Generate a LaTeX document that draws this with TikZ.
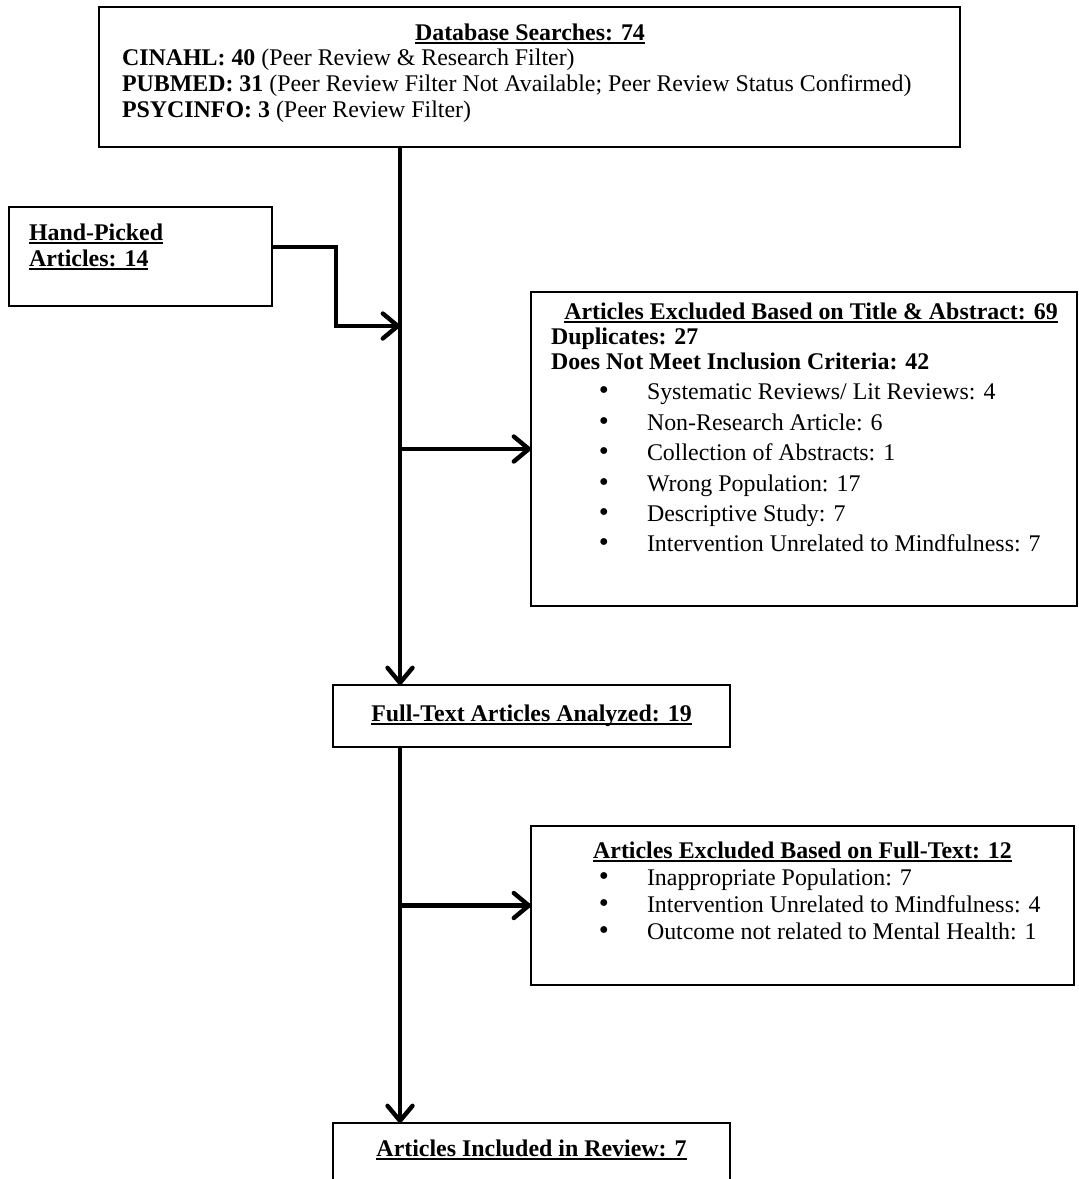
\documentclass[tikz,border=0pt]{standalone}
\usepackage{fontspec}
\setmainfont{Liberation Serif}
\usetikzlibrary{arrows.meta,calc}
\newcommand\myul[1]{\setbox0\hbox{#1}\rlap{\rule[-4pt]{\wd0}{1.8pt}}\box0}
\newcommand\mybul{\raisebox{-0.8pt}{\scalebox{1.2}{\textbullet}}}
\tikzset{
  boxnode/.style={draw, line width=1.6pt, rectangle, inner sep=0pt, outer sep=0pt, anchor=north west},
  txt/.style={inner sep=0pt, outer sep=0pt, font=\fontsize{23.9}{28}\selectfont},
  lt/.style={txt, anchor=base west},
  ct/.style={txt, anchor=base},
  flow/.style={line width=4.4pt, -{Straight Barb[round,length=15pt,width=25pt]}}
}
\begin{document}
\begin{tikzpicture}[x=1pt,y=-1pt]
\useasboundingbox (0,0) rectangle (1079,1179);
\clip (0,0) rectangle (1079,1179);
% boxes
\node[boxnode, minimum width=861pt, minimum height=140pt] (db) at (99,7) {};
\node[boxnode, minimum width=263pt, minimum height=99pt] (hand) at (9,207) {};
\node[boxnode, minimum width=546pt, minimum height=314pt] (ex1) at (531,292) {};
\node[boxnode, minimum width=397pt, minimum height=62pt] (full) at (333,685) {};
\node[boxnode, minimum width=543pt, minimum height=159pt] (ex2) at (531,826) {};
\node[boxnode, minimum width=397pt, minimum height=100pt] (incl) at (333,1123) {};
% texts: database searches
\node[ct] (dbt) at (530,40) {\myul{\textbf{Database Searches: 74}}};
\node[lt] (db1) at (122,65) {\textbf{CINAHL: 40} (Peer Review \& Research Filter)};
\node[lt] (db2) at (122,91) {\textbf{PUBMED: 31} (Peer Review Filter Not Available; Peer Review Status Confirmed)};
\node[lt] (db3) at (122,117) {\textbf{PSYCINFO: 3} (Peer Review Filter)};
% hand-picked
\node[lt] (h1) at (29,240) {\myul{\textbf{Hand-Picked}}};
\node[lt] (h2) at (29,266) {\myul{\textbf{Articles: 14}}};
% excluded 1
\node[ct] (e1t) at (811,319) {\myul{\textbf{Articles Excluded Based on Title \& Abstract: 69}}};
\node[lt] (e1a) at (551,344) {\textbf{Duplicates: 27}};
\node[lt] (e1b) at (551,369) {\textbf{Does Not Meet Inclusion Criteria: 42}};
\node[ct] (e1bul1) at (604,399) {\mybul};
\node[lt] (e1it1) at (647,399) {Systematic Reviews/ Lit Reviews: 4};
\node[ct] (e1bul2) at (604,430) {\mybul};
\node[lt] (e1it2) at (647,430) {Non-Research Article: 6};
\node[ct] (e1bul3) at (604,460) {\mybul};
\node[lt] (e1it3) at (647,460) {Collection of Abstracts: 1};
\node[ct] (e1bul4) at (604,491) {\mybul};
\node[lt] (e1it4) at (647,491) {Wrong Population: 17};
\node[ct] (e1bul5) at (604,521) {\mybul};
\node[lt] (e1it5) at (647,521) {Descriptive Study: 7};
\node[ct] (e1bul6) at (604,551) {\mybul};
\node[lt] (e1it6) at (647,551) {Intervention Unrelated to Mindfulness: 7};
% full text
\node[ct] (ft) at (531.5,721) {\myul{\textbf{Full-Text Articles Analyzed: 19}}};
% excluded 2
\node[ct] (e2t) at (802.5,858) {\myul{\textbf{Articles Excluded Based on Full-Text: 12}}};
\node[ct] (e2bul1) at (604,885) {\mybul};
\node[lt] (e2it1) at (647,885) {Inappropriate Population: 7};
\node[ct] (e2bul2) at (604,912) {\mybul};
\node[lt] (e2it2) at (647,912) {Intervention Unrelated to Mindfulness: 4};
\node[ct] (e2bul3) at (604,939) {\mybul};
\node[lt] (e2it3) at (647,939) {Outcome not related to Mental Health: 1};
% included
\node[ct] (it) at (531.5,1156) {\myul{\textbf{Articles Included in Review: 7}}};
% connectors
\coordinate (spine) at (400,0);
\coordinate (hpA) at (336,247);
\coordinate (hpB) at (336,326);
\draw[flow] (db.south -| spine) -- (full.north -| spine);
\draw[flow] (full.south -| spine) -- (incl.north -| spine);
\draw[flow] (spine |- ex1.west) -- (ex1.west);
\draw[flow] (spine |- ex2.west) -- (ex2.west);
\draw[flow] (hand.east |- hpA) -- (hpA) -- (hpB) -- (spine |- hpB);
\end{tikzpicture}
\end{document}
